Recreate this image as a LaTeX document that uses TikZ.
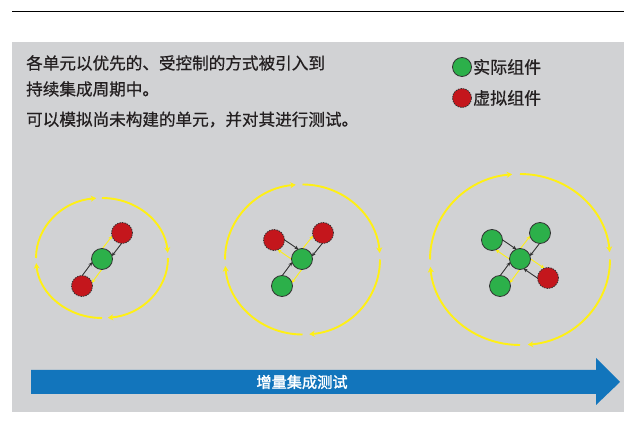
\documentclass[tikz,border=0pt]{standalone}
\usepackage{fontspec}
\newfontfamily\cjk[FakeBold=0.6]{Noto Sans CJK SC}
\newfontfamily\cjkb[FakeBold=1.5]{Noto Sans CJK SC}
\usetikzlibrary{arrows.meta,calc}
\definecolor{bggray}{RGB}{209,210,212}
\definecolor{cgreen}{RGB}{44,176,74}
\definecolor{cred}{RGB}{196,22,28}
\definecolor{cedge}{RGB}{51,51,51}
\definecolor{cyell}{RGB}{255,240,20}
\definecolor{cblue}{RGB}{18,117,188}
\definecolor{ctext}{RGB}{35,31,32}
\newcommand\cyclering[3]{%
  \foreach \a/\b in {180/95, 90/5, 0/-85, -90/-175}{%
    \draw[ring] ($(#1)+(\a:#2pt and #3pt)$) arc[start angle=\a, end angle=\b, x radius=#2pt, y radius=#3pt];}}
\newcommand\linkpair[2]{%
  \draw[blk] ($(#1)!6pt!90:(#2)$) -- ($(#2)!6pt!-90:(#1)$);
  \draw[ylw] ($(#2)!6pt!90:(#1)$) -- ($(#1)!6pt!-90:(#2)$);}
\begin{document}
\begin{tikzpicture}[x=1pt,y=1pt,
  ring/.style={draw=cyell, line width=1.9pt, -{Stealth[length=5.5pt,width=6pt]}},
  blk/.style={draw=cedge, line width=0.9pt, -{Stealth[length=4pt,width=3.5pt]}, shorten >=8.3pt, shorten <=8.3pt},
  ylw/.style={draw=cyell, line width=0.9pt, -{Stealth[length=4pt,width=3.5pt]}, shorten >=8.3pt, shorten <=8.3pt},
  real/.style={circle, minimum size=21pt, inner sep=0pt, fill=cgreen, draw=cedge, line width=0.8pt},
  virt/.style={circle, minimum size=21pt, inner sep=0pt, fill=cred, draw=cedge, line width=0.8pt, dash pattern=on 1.5pt off 1pt},
  txt/.style={anchor=west, inner sep=0pt, text=ctext, font=\cjk\fontsize{16.6}{20}\selectfont},
  legtxt/.style={anchor=west, inner sep=0pt, text=ctext, font=\cjk\fontsize{17}{20}\selectfont}]
\useasboundingbox (0,0) rectangle (624,439);
\fill[white] (0,0) rectangle (624,439);
\draw[line width=1pt] (12,427) -- (624,427);
\fill[bggray] (12,27) rectangle (624,397);
% texts
\node[txt] (t1) at (26,376) {各单元以优先的、受控制的方式被引入到};
\node[txt] (t2) at (26,350) {持续集成周期中。};
\node[txt] (t3) at (26,319.5) {可以模拟尚未构建的单元，并对其进行测试。};
% legend
\node[real, minimum size=19pt] (lg) at (462,372) {};
\node[legtxt] (lgt) at (473,372) {实际组件};
\node[virt, minimum size=19pt] (lr) at (462,341) {};
\node[legtxt] (lrt) at (473,341) {虚拟组件};
% rings
\coordinate (c1) at (102,181);
\coordinate (c2) at (302.5,179.5);
\coordinate (c3) at (520,179.5);
\cyclering{c1}{66}{60}
\cyclering{c2}{77.5}{75}
\cyclering{c3}{90}{85.5}
% cycle 1
\coordinate (p1a) at (122,206);
\coordinate (p1c) at (102,180);
\coordinate (p1b) at (82,153);
\linkpair{p1a}{p1c}
\linkpair{p1b}{p1c}
\node[virt] (n1a) at (p1a) {};
\node[real] (n1c) at (p1c) {};
\node[virt] (n1b) at (p1b) {};
% cycle 2
\coordinate (p2a) at (274,199);
\coordinate (p2b) at (323,206);
\coordinate (p2c) at (302,180);
\coordinate (p2d) at (282,153);
\linkpair{p2a}{p2c}
\linkpair{p2b}{p2c}
\linkpair{p2d}{p2c}
\node[virt] (n2a) at (p2a) {};
\node[virt] (n2b) at (p2b) {};
\node[real] (n2c) at (p2c) {};
\node[real] (n2d) at (p2d) {};
% cycle 3
\coordinate (p3a) at (492,199);
\coordinate (p3b) at (540,206);
\coordinate (p3c) at (520,180);
\coordinate (p3d) at (500,153);
\coordinate (p3e) at (548,161);
\linkpair{p3a}{p3c}
\linkpair{p3b}{p3c}
\linkpair{p3d}{p3c}
\linkpair{p3e}{p3c}
\node[real] (n3a) at (p3a) {};
\node[real] (n3b) at (p3b) {};
\node[real] (n3c) at (p3c) {};
\node[real] (n3d) at (p3d) {};
\node[virt] (n3e) at (p3e) {};
% big arrow
\fill[cblue] (31,45) -- (596,45) -- (596,34) -- (620,57) -- (596,81) -- (596,69) -- (31,69) -- cycle;
\node[inner sep=0pt, text=white, font=\cjkb\fontsize{15.2}{18}\selectfont] (at) at (302,57) {增量集成测试};
\end{tikzpicture}
\end{document}
